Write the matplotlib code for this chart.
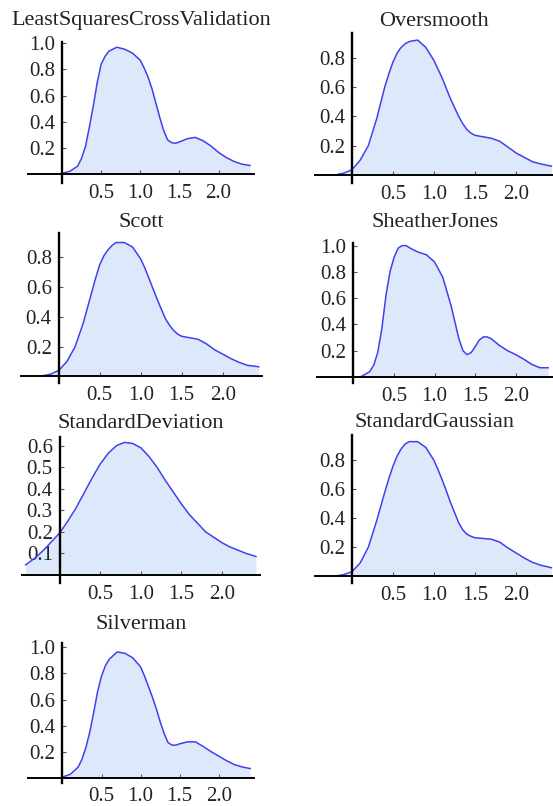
import matplotlib.pyplot as plt

plt.rcParams['font.family'] = ['Liberation Serif', 'DejaVu Serif']

# Titulos dos paineis
titulos = ['LeastSquaresCrossValidation', 'Oversmooth', 'Scott', 'SheatherJones',
           'StandardDeviation', 'StandardGaussian', 'Silverman']

# Curvas de densidade
x_lscv = [0.0, 0.1, 0.2, 0.25, 0.3, 0.35, 0.4, 0.45, 0.5, 0.55, 0.6, 0.7, 0.8, 0.9, 1.0, 1.05,
          1.1, 1.15, 1.2, 1.25, 1.3, 1.35, 1.4, 1.45, 1.5, 1.6, 1.7, 1.8, 1.9, 2.0, 2.1, 2.2,
          2.3, 2.4]
y_lscv = [0.005, 0.02, 0.06, 0.12, 0.21, 0.36, 0.52, 0.7, 0.84, 0.9, 0.94, 0.97, 0.955, 0.925,
          0.87, 0.81, 0.74, 0.65, 0.54, 0.43, 0.33, 0.26, 0.24, 0.235, 0.245, 0.27, 0.28, 0.255,
          0.215, 0.165, 0.125, 0.095, 0.075, 0.065]

x_over = [-0.17, -0.1, 0.0, 0.1, 0.2, 0.3, 0.35, 0.4, 0.45, 0.5, 0.55, 0.6, 0.65, 0.7, 0.8,
          0.9, 1.0, 1.05, 1.1, 1.15, 1.2, 1.25, 1.3, 1.35, 1.4, 1.45, 1.5, 1.6, 1.7, 1.8, 1.9,
          2.0, 2.1, 2.2, 2.3, 2.43]
y_over = [0.005, 0.012, 0.035, 0.1, 0.2, 0.38, 0.49, 0.6, 0.69, 0.77, 0.83, 0.87, 0.895, 0.91,
          0.92, 0.87, 0.78, 0.72, 0.66, 0.59, 0.52, 0.46, 0.4, 0.35, 0.31, 0.285, 0.27, 0.26,
          0.25, 0.23, 0.19, 0.15, 0.12, 0.09, 0.075, 0.06]

x_scott = [-0.19, -0.1, 0.0, 0.1, 0.2, 0.3, 0.35, 0.4, 0.45, 0.5, 0.55, 0.6, 0.65, 0.7, 0.8,
           0.9, 1.0, 1.05, 1.1, 1.15, 1.2, 1.25, 1.3, 1.35, 1.4, 1.45, 1.5, 1.6, 1.7, 1.8, 1.9,
           2.0, 2.1, 2.2, 2.3, 2.44]
y_scott = [0.005, 0.015, 0.04, 0.1, 0.2, 0.36, 0.46, 0.56, 0.66, 0.75, 0.81, 0.85, 0.88, 0.9,
           0.9, 0.87, 0.79, 0.73, 0.66, 0.59, 0.52, 0.455, 0.39, 0.345, 0.31, 0.285, 0.27, 0.26,
           0.25, 0.22, 0.18, 0.15, 0.12, 0.095, 0.075, 0.065]

x_sj = [0.08, 0.1, 0.2, 0.25, 0.3, 0.35, 0.4, 0.45, 0.5, 0.55, 0.6, 0.65, 0.7, 0.8, 0.9, 1.0,
        1.1, 1.2, 1.3, 1.35, 1.4, 1.45, 1.5, 1.55, 1.6, 1.65, 1.7, 1.8, 1.9, 2.0, 2.1, 2.2,
        2.3, 2.4]
y_sj = [0.0, 0.005, 0.04, 0.09, 0.19, 0.37, 0.62, 0.8, 0.91, 0.98, 1.0, 1.0, 0.98, 0.95, 0.93,
        0.875, 0.76, 0.55, 0.29, 0.2, 0.17, 0.185, 0.23, 0.28, 0.305, 0.305, 0.29, 0.24, 0.2,
        0.17, 0.135, 0.095, 0.07, 0.07]

x_sd = [-0.42, -0.3, -0.2, -0.1, 0.0, 0.1, 0.2, 0.3, 0.4, 0.5, 0.6, 0.7, 0.8, 0.9, 1.0, 1.1,
        1.2, 1.3, 1.4, 1.5, 1.6, 1.7, 1.8, 1.9, 2.0, 2.1, 2.2, 2.3, 2.42]
y_sd = [0.047, 0.08, 0.115, 0.155, 0.195, 0.25, 0.31, 0.38, 0.45, 0.515, 0.565, 0.6, 0.615,
        0.61, 0.59, 0.55, 0.5, 0.44, 0.385, 0.33, 0.28, 0.24, 0.2, 0.175, 0.15, 0.13, 0.115,
        0.1, 0.086]

x_sg = [-0.17, -0.1, 0.0, 0.1, 0.2, 0.3, 0.35, 0.4, 0.45, 0.5, 0.55, 0.6, 0.65, 0.7, 0.8, 0.9,
        1.0, 1.05, 1.1, 1.15, 1.2, 1.25, 1.3, 1.35, 1.4, 1.45, 1.5, 1.6, 1.7, 1.8, 1.9, 2.0,
        2.1, 2.2, 2.3, 2.43]
y_sg = [0.003, 0.01, 0.03, 0.09, 0.2, 0.38, 0.48, 0.58, 0.675, 0.76, 0.83, 0.88, 0.915, 0.93,
        0.93, 0.89, 0.8, 0.735, 0.665, 0.59, 0.51, 0.44, 0.37, 0.32, 0.29, 0.275, 0.265, 0.26,
        0.255, 0.235, 0.195, 0.16, 0.125, 0.095, 0.075, 0.058]

x_silv = [0.0, 0.1, 0.2, 0.25, 0.3, 0.35, 0.4, 0.45, 0.5, 0.55, 0.6, 0.7, 0.8, 0.9, 1.0, 1.05,
          1.1, 1.15, 1.2, 1.25, 1.3, 1.35, 1.4, 1.45, 1.5, 1.6, 1.7, 1.8, 1.9, 2.0, 2.1, 2.2,
          2.3, 2.4]
y_silv = [0.005, 0.025, 0.08, 0.14, 0.23, 0.35, 0.5, 0.66, 0.78, 0.86, 0.91, 0.965, 0.955,
          0.92, 0.85, 0.78, 0.7, 0.62, 0.53, 0.43, 0.34, 0.27, 0.25, 0.25, 0.26, 0.275, 0.275,
          0.24, 0.2, 0.165, 0.13, 0.1, 0.082, 0.07]

curvas = [(x_lscv, y_lscv), (x_over, y_over), (x_scott, y_scott), (x_sj, y_sj),
          (x_sd, y_sd), (x_sg, y_sg), (x_silv, y_silv)]

ticks_x = [0.5, 1.0, 1.5, 2.0]
ticks_y = [[0.2, 0.4, 0.6, 0.8, 1.0], [0.2, 0.4, 0.6, 0.8], [0.2, 0.4, 0.6, 0.8],
           [0.2, 0.4, 0.6, 0.8, 1.0], [0.1, 0.2, 0.3, 0.4, 0.5, 0.6], [0.2, 0.4, 0.6, 0.8],
           [0.2, 0.4, 0.6, 0.8, 1.0]]

# Posicao de cada painel em pixels: esquerda, direita, topo, base
caixas = [(28, 254, 42, 183), (315, 553, 33, 183), (21, 262, 233, 383), (317, 553, 243, 383),
          (22, 260, 437, 583), (315, 553, 435, 583), (28, 254, 643, 783)]
limites_x = [(-0.434, 2.452), (-0.45, 2.45), (-0.46, 2.48), (-0.45, 2.46),
             (-0.465, 2.47), (-0.45, 2.45), (-0.44, 2.45)]
limites_y = [(-0.069, 1.01), (-0.055, 0.968), (-0.044, 0.964), (-0.046, 1.02),
             (-0.037, 0.64), (-0.048, 0.976), (-0.041, 1.034)]
# linha de base dos titulos (pixels a partir do topo)
base_titulo = [25, 26, 227, 227, 428, 427, 629]

W, H = 553, 806
fig = plt.figure(figsize=(W / 100, H / 100), dpi=100)

for i, titulo in enumerate(titulos):
    esq, dir, topo, base = caixas[i]
    ax = fig.add_axes([esq / W, 1 - base / H, (dir - esq) / W, (base - topo) / H])
    x, y = curvas[i]
    ax.fill_between(x, y, 0, color='#dde9fb', lw=0)
    ax.plot(x, y, color='#4040ee', lw=1.1)
    ax.set_xlim(*limites_x[i])
    ax.set_ylim(*limites_y[i])

    for lado in ['top', 'right']:
        ax.spines[lado].set_visible(False)
    ax.spines['left'].set_position(('data', 0))
    ax.spines['bottom'].set_position(('data', 0))
    ax.spines['left'].set_linewidth(1.7)
    ax.spines['bottom'].set_linewidth(1.4)

    ax.set_xticks(ticks_x)
    ax.set_xticklabels([f'{t:.1f}' for t in ticks_x])
    ax.set_yticks(ticks_y[i])
    ax.set_yticklabels([f'{t:.1f}' for t in ticks_y[i]])
    ax.tick_params(direction='in', length=3, width=0.8, color='#555555',
                   labelsize=15, labelcolor='#222222')
    ax.tick_params(axis='x', pad=7)
    ax.tick_params(axis='y', pad=5)
    ax.patch.set_visible(False)

    fig.text((esq + dir) / 2 / W, 1 - base_titulo[i] / H, titulo, fontsize=16,
             ha='center', va='baseline', color='#222222')

fig.savefig('out.png', dpi=100)
